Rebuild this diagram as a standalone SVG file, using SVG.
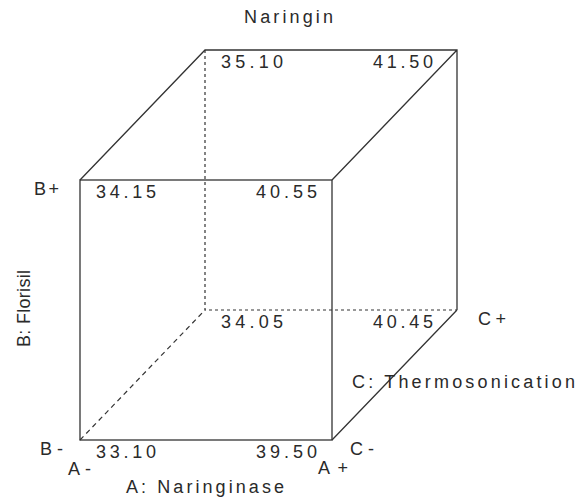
<svg xmlns="http://www.w3.org/2000/svg" width="579" height="497" viewBox="0 0 579 497">
<style>
text{font-family:"Liberation Sans",Arial,sans-serif;font-size:18px;fill:#2a2a2a}
.s{stroke:#333;stroke-width:1.3;fill:none}
.d{stroke:#333;stroke-width:1.2;fill:none;stroke-dasharray:3 3}
.d2{stroke:#333;stroke-width:1.2;fill:none;stroke-dasharray:5 4}
</style>
<rect width="579" height="497" fill="#fff"/>
<g id="edges">
<rect class="s" x="80" y="180" width="252" height="260"/>
<path class="s" d="M80 180L205 50H457V310M332 180L457 50M332 440L457 310"/>
<path class="d" d="M205 50V310H457"/>
<path class="d2" d="M80 440L205 310"/>
</g>
<g id="title"><text x="244" y="23" textLength="89" lengthAdjust="spacing">Naringin</text></g>
<g id="v1"><text x="96" y="198" textLength="60" lengthAdjust="spacing">34.15</text></g>
<g id="v2"><text x="256" y="198" textLength="61" lengthAdjust="spacing">40.55</text></g>
<g id="v3"><text x="221" y="68" textLength="62" lengthAdjust="spacing">35.10</text></g>
<g id="v4"><text x="373" y="68" textLength="60" lengthAdjust="spacing">41.50</text></g>
<g id="v5"><text x="221" y="328" textLength="62" lengthAdjust="spacing">34.05</text></g>
<g id="v6"><text x="373" y="328" textLength="60" lengthAdjust="spacing">40.45</text></g>
<g id="v7"><text x="96" y="458" textLength="60" lengthAdjust="spacing">33.10</text></g>
<g id="v8"><text x="256" y="458" textLength="61" lengthAdjust="spacing">39.50</text></g>
<g id="labels">
<text x="34" y="195" textLength="25" lengthAdjust="spacing">B+</text>
<text x="40" y="455" textLength="23" lengthAdjust="spacing">B-</text>
<text x="68" y="475" textLength="23" lengthAdjust="spacing">A-</text>
<text x="318" y="474" textLength="30" lengthAdjust="spacing">A+</text>
<text x="350" y="455" textLength="24" lengthAdjust="spacing">C-</text>
<text x="478" y="325" textLength="28" lengthAdjust="spacing">C+</text>
<text x="126" y="493" textLength="158" lengthAdjust="spacing">A: Naringinase</text>
<text x="352" y="388" textLength="223" lengthAdjust="spacing">C: Thermosonication</text>
<text transform="translate(30,347) rotate(-90)" font-size="17" textLength="77" lengthAdjust="spacing">B: Florisil</text>
</g>
</svg>
